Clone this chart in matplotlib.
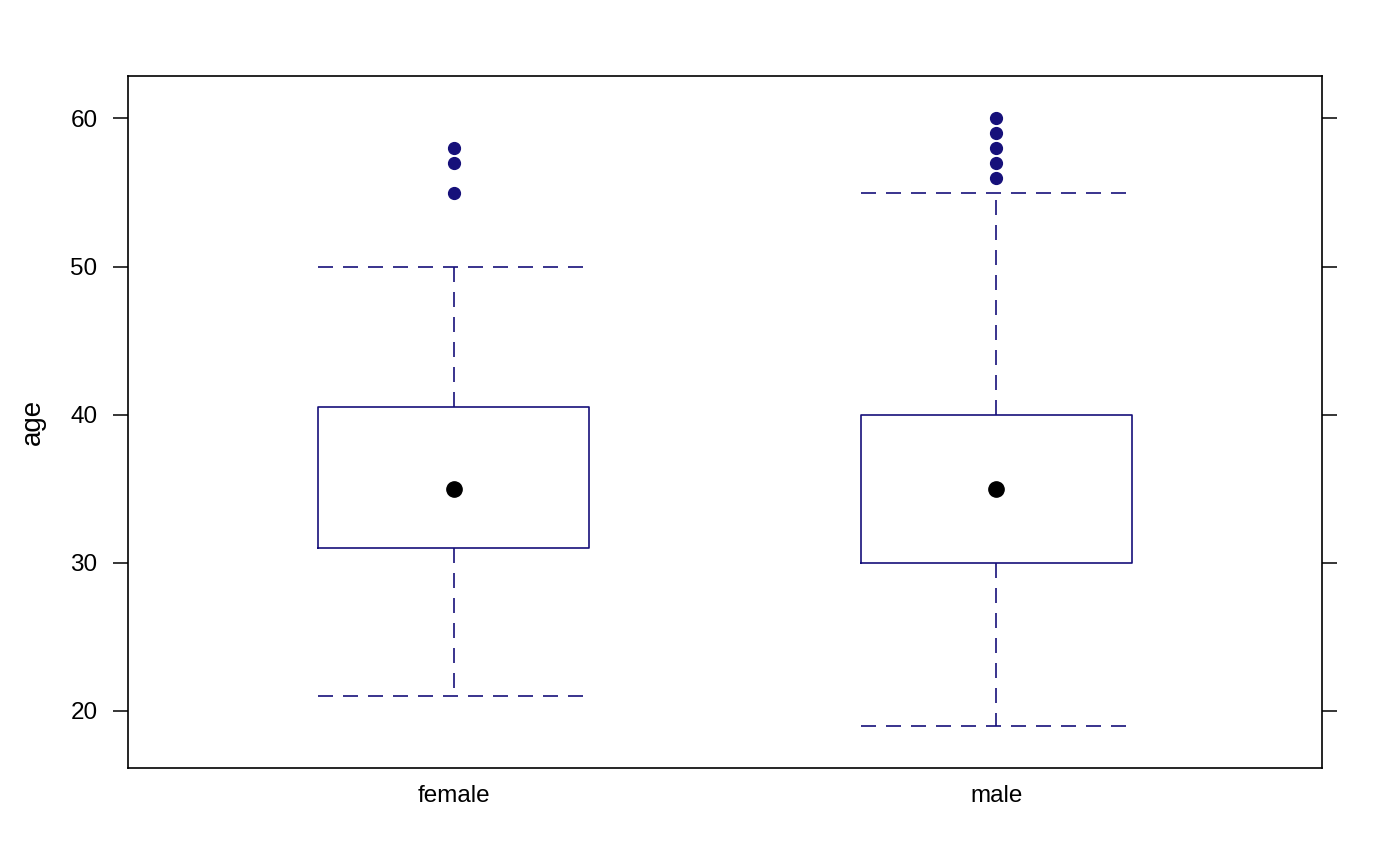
import matplotlib.pyplot as plt

plt.rcParams["font.family"] = ["Liberation Sans", "DejaVu Sans"]

# box stats
groups = ["female", "male"]
whisker_low = [21, 19]
q1 = [31, 30]
median = [35, 35]
q3 = [40.5, 40]
whisker_high = [50, 55]
outliers = [[55, 57, 58], [56, 57, 58, 59, 60]]

navy = "#16107a"


def main():
    fig = plt.figure(figsize=(14, 8.65), dpi=100)
    ax = fig.add_axes([128 / 1400, 1 - 768 / 865, (1322 - 128) / 1400, (768 - 76) / 865])

    stats = []
    for i, g in enumerate(groups):
        stats.append({
            "label": g, "whislo": whisker_low[i], "q1": q1[i], "med": median[i],
            "q3": q3[i], "whishi": whisker_high[i], "fliers": outliers[i],
        })

    ax.bxp(
        stats, positions=[1, 2], widths=0.5, showcaps=True,
        boxprops=dict(color=navy, lw=1.2),
        whiskerprops=dict(color=navy, lw=1.2, linestyle=(0, (9, 6))),
        capprops=dict(color=navy, lw=1.2, linestyle=(0, (9, 6))),
        capwidths=0.5,
        medianprops=dict(linestyle="none"),
        flierprops=dict(marker="o", markerfacecolor=navy, markeredgecolor=navy, markersize=8.5),
    )
    # lattice draws the median as a big black dot
    ax.plot([1, 2], median, "o", color="black", markersize=11)

    ax.set_xlim(0.4, 2.6)
    ax.set_ylim(16.13, 62.87)
    ax.set_xticks([1, 2])
    ax.set_xticklabels(groups)
    ax.set_yticks([20, 30, 40, 50, 60])
    ax.tick_params(axis="x", length=0, labelsize=17.5, pad=12)
    ax.tick_params(axis="y", direction="out", length=11, width=1.1,
                   labelsize=17.5, right=True, pad=11)
    for s in ax.spines.values():
        s.set_linewidth(1.2)
    ax.set_ylabel("age", fontsize=20)
    ax.yaxis.set_label_coords(-0.069, 0.5)

    fig.savefig("out.png", dpi=100)


if __name__ == "__main__":
    main()
